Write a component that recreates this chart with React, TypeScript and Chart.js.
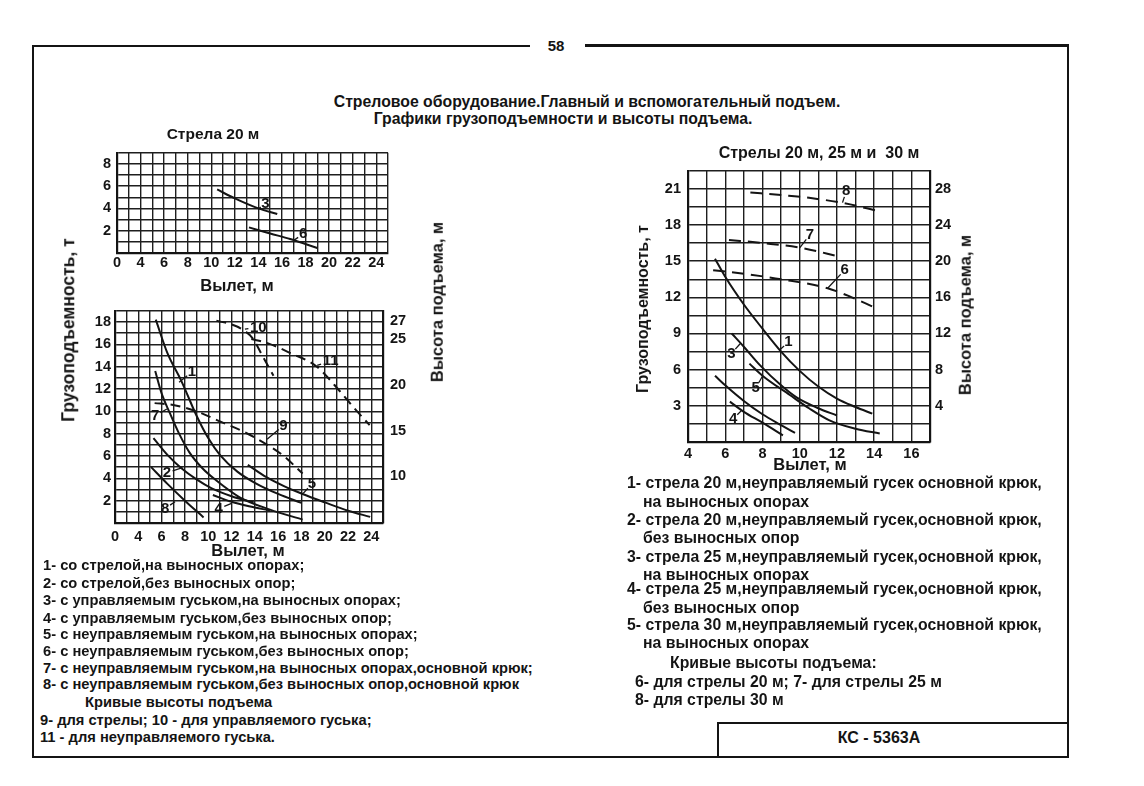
import React, { useEffect, useRef } from 'react';
import { Chart, registerables } from 'chart.js';

Chart.register(...registerables);

const FONT = '"Liberation Sans", Arial, sans-serif';
const INK = '#141414';

// ---------- Top-left chart: "Стрела 20 м" ----------
const top3X = [10.5, 12, 14, 15.6];
const top3Y = [5.7, 4.9, 4.0, 3.5];
const top6X = [13.2, 15, 16.7, 19];
const top6Y = [2.3, 1.75, 1.25, 0.45];
const topLabels = [
  { t: '3', x: 14.6, y: 4.45, tx: 14.0, ty: 3.95 },
  { t: '6', x: 17.8, y: 1.7, tx: 16.95, ty: 1.1 },
];

// ---------- Bottom-left chart ----------
const c1X = [5.5, 6.5, 7.7, 9, 10, 11, 12.5, 14, 16, 18];
const c1Y = [18.2, 15.2, 12.7, 9.6, 7.6, 6.1, 4.6, 3.6, 2.6, 1.8];
const c2X = [5.3, 6.5, 7.7, 9, 10.3, 12, 13.9];
const c2Y = [7.6, 6.1, 4.9, 3.9, 3.1, 2.4, 1.85];
const c4X = [10.4, 12, 13.5, 15.3];
const c4Y = [2.5, 1.9, 1.5, 1.12];
const c5X = [13.4, 15, 16.5, 18.1, 20, 22, 23.9];
const c5Y = [5.2, 4.1, 3.3, 2.6, 1.85, 1.1, 0.55];
const c7X = [5.45, 6, 6.7, 7.5, 8.4, 9.5, 10.7, 12.7, 15.3, 18.1];
const c7Y = [13.6, 11.6, 9.85, 8.0, 6.3, 4.9, 3.8, 2.3, 1.2, 0.3];
const c8X = [5.1, 6.5, 8, 9.6];
const c8Y = [5.0, 3.5, 2.0, 0.5];
// lifting height curves (right axis, m)
const c9X = [5.4, 7, 9, 11, 13, 15, 16.5, 18.1];
const c9Y = [18.0, 17.8, 17.1, 16.0, 14.9, 13.5, 12.2, 10.3];
const c10X = [10.7, 12, 13, 13.8, 14.6, 15.6];
const c10Y = [27.0, 26.6, 26.0, 25.1, 23.3, 21.0];
const c11X = [13.7, 15, 17, 19.3, 21.3, 22.5, 23.85];
const c11Y = [25.0, 24.6, 23.5, 22.0, 19.3, 17.5, 15.6];
const bottomLabels = [
  { t: '1', x: 8.6, y: 13.5, tx: 7.5, ty: 12.6 },
  { t: '7', x: 5.45, y: 9.6, tx: 6.45, ty: 10.2 },
  { t: '2', x: 6.45, y: 4.5, tx: 7.8, ty: 4.95 },
  { t: '8', x: 6.3, y: 1.3, tx: 7.15, ty: 1.9 },
  { t: '4', x: 10.9, y: 1.3, tx: 12, ty: 1.75 },
  { t: '5', x: 18.9, y: 3.5, tx: 18.15, ty: 2.65 },
  { t: '9', x: 16.45, y: 8.7, tx: 15.05, ty: 7.5 },
  { t: '10', x: 14.3, y: 17.5, tx: 13.15, ty: 17.35 },
  { t: '11', x: 20.5, y: 14.5, tx: 19.35, ty: 14.1 },
];

// ---------- Right chart: "Стрелы 20 м, 25 м и 30 м" ----------
const r1X = [5.45, 6, 7, 8, 9, 10, 11, 12, 13, 13.9];
const r1Y = [15.2, 13.7, 11.4, 9.4, 7.5, 5.9, 4.6, 3.6, 2.9, 2.35];
const r2X = [5.45, 6, 7, 8, 9, 9.75];
const r2Y = [5.5, 4.7, 3.4, 2.3, 1.4, 0.75];
const r3X = [6.35, 7, 7.85, 9, 9.83, 11, 12];
const r3Y = [9.0, 7.9, 6.4, 4.7, 3.7, 2.8, 2.2];
const r4X = [6.25, 7, 8, 9.1];
const r4Y = [3.35, 2.5, 1.6, 0.55];
const r5X = [7.3, 8, 9.47, 10.5, 11.6, 13, 14.3];
const r5Y = [6.5, 5.5, 3.9, 2.8, 1.8, 1.1, 0.7];
// lifting height curves (right axis, m)
const r6X = [5.35, 7, 9, 11.5, 12.8, 14];
const r6Y = [19.0, 18.6, 18.0, 17.0, 16.0, 14.9];
const r7X = [6.2, 8, 10, 12.15];
const r7Y = [22.35, 22.0, 21.5, 20.5];
const r8X = [7.35, 9, 10.5, 12.4, 14.3];
const r8Y = [27.6, 27.3, 27.0, 26.4, 25.5];
const rightLabels = [
  { t: '8', x: 12.5, y: 20.8, tx: 12.3, ty: 19.85 },
  { t: '7', x: 10.55, y: 17.2, tx: 10.0, ty: 16.1 },
  { t: '6', x: 12.42, y: 14.27, tx: 11.5, ty: 12.75 },
  { t: '1', x: 9.4, y: 8.3, tx: 8.9, ty: 7.6 },
  { t: '3', x: 6.33, y: 7.33, tx: 6.8, ty: 8.15 },
  { t: '5', x: 7.64, y: 4.48, tx: 8.0, ty: 5.45 },
  { t: '4', x: 6.42, y: 1.9, tx: 6.87, ty: 2.6 },
];

// ---------- Tick labels ----------
const leftXTickAt = [2, 4, 6, 8, 10, 12, 14, 16, 18, 20, 22, 24];
const leftXTickText = ['0', '4', '6', '8', '10', '12', '14', '16', '18', '20', '22', '24'];
const topYTickAt = [2, 4, 6, 8];
const bottomYTickAt = [2, 4, 6, 8, 10, 12, 14, 16, 18];
const bottomY2TickAt = [10, 15, 20, 25, 27];
const rightXTickAt = [4, 6, 8, 10, 12, 14, 16];
const rightYTickAt = [3, 6, 9, 12, 15, 18, 21];
const rightY2TickAt = [4, 8, 12, 16, 20, 24, 28];

const range = (a: number, b: number, s: number) => {
  const out: number[] = [];
  for (let i = 0; a + i * s <= b + 1e-9; i++) out.push(+(a + i * s).toFixed(4));
  return out;
};

const zip = (xs: number[], ys: number[]) => xs.map((x, i) => ({ x, y: ys[i] }));

const line = (xs: number[], ys: number[], axis = 'y', dash: number[] = []) => ({
  data: zip(xs, ys),
  borderColor: INK,
  borderWidth: 2,
  borderDash: dash,
  pointRadius: 0,
  fill: false,
  cubicInterpolationMode: 'monotone',
  yAxisID: axis,
});

type AxisOpts = {
  min: number;
  max: number;
  grid: number[];
  at: number[];
  text?: string[];
  position: string;
  showGrid: boolean;
  padding: number;
  size: number;
};

const axis = (o: AxisOpts) => ({
  type: 'linear',
  position: o.position,
  min: o.min,
  max: o.max,
  afterBuildTicks: (s: any) => {
    s.ticks = o.grid.map((v) => ({ value: v }));
  },
  afterFit: (s: any) => {
    if (o.position === 'bottom') s.height = o.size;
    else s.width = o.size;
  },
  grid: { display: o.showGrid, color: '#1e1e1e', lineWidth: 1.4, drawTicks: false },
  border: { display: true, color: INK, width: 2.2 },
  ticks: {
    autoSkip: false,
    maxRotation: 0,
    padding: o.padding,
    color: INK,
    font: { family: FONT, size: 14.5, weight: 'bold' },
    callback: (v: number) => {
      const i = o.at.indexOf(v);
      if (i < 0) return '';
      return o.text ? o.text[i] : String(v);
    },
  },
});

const curveLabelPlugin = {
  id: 'curveLabels',
  afterDatasetsDraw(chart: any, _args: any, opts: any) {
    const items = opts && opts.items;
    if (!items) return;
    const ctx = chart.ctx;
    const xs = chart.scales.x;
    const ys = chart.scales.y;
    ctx.save();
    ctx.font = `bold 15px ${FONT}`;
    ctx.fillStyle = INK;
    ctx.strokeStyle = INK;
    ctx.lineWidth = 1.3;
    ctx.textAlign = 'center';
    ctx.textBaseline = 'middle';
    for (const l of items) {
      const px = xs.getPixelForValue(l.x);
      const py = ys.getPixelForValue(l.y);
      const qx = xs.getPixelForValue(l.tx);
      const qy = ys.getPixelForValue(l.ty);
      ctx.fillText(l.t, px, py);
      const dx = qx - px;
      const dy = qy - py;
      const d = Math.hypot(dx, dy) || 1;
      const off = l.t.length > 1 ? 10 : 6;
      ctx.beginPath();
      ctx.moveTo(px + (dx / d) * off, py + (dy / d) * off);
      ctx.lineTo(qx, qy);
      ctx.stroke();
    }
    ctx.restore();
  },
};

const baseOptions = (scales: any, padding: any, items: any[]) => ({
  responsive: false,
  animation: false,
  devicePixelRatio: 1,
  layout: { padding },
  plugins: {
    legend: { display: false },
    tooltip: { enabled: false },
    curveLabels: { items },
  },
  elements: { point: { radius: 0 } },
  scales,
});

const topConfig = () => ({
  type: 'line',
  data: { datasets: [line(top3X, top3Y), line(top6X, top6Y)] },
  options: baseOptions(
    {
      x: axis({ min: 2, max: 25, grid: range(2, 25, 1), at: leftXTickAt, text: leftXTickText, position: 'bottom', showGrid: true, padding: 1, size: 25 }),
      y: axis({ min: 0, max: 9, grid: range(0, 9, 1), at: topYTickAt, position: 'left', showGrid: true, padding: 6, size: 47 }),
    },
    { top: 8, right: 12, left: 0, bottom: 0 },
    topLabels
  ),
  plugins: [curveLabelPlugin],
});

const bottomConfig = () => ({
  type: 'line',
  data: {
    datasets: [
      line(c1X, c1Y),
      line(c2X, c2Y),
      line(c4X, c4Y),
      line(c5X, c5Y),
      line(c7X, c7Y),
      line(c8X, c8Y),
      line(c9X, c9Y, 'y2', [10, 6]),
      line(c10X, c10Y, 'y2', [10, 6]),
      line(c11X, c11Y, 'y2', [10, 6]),
    ],
  },
  options: baseOptions(
    {
      x: axis({ min: 2, max: 25, grid: range(2, 25, 1), at: leftXTickAt, text: leftXTickText, position: 'bottom', showGrid: true, padding: 5, size: 32 }),
      y: axis({ min: 0, max: 19, grid: range(0, 19, 1), at: bottomYTickAt, position: 'left', showGrid: true, padding: 4, size: 55 }),
      y2: axis({ min: 4.9, max: 28.1, grid: bottomY2TickAt, at: bottomY2TickAt, position: 'right', showGrid: false, padding: 7, size: 47 }),
    },
    { top: 10, right: 0, left: 0, bottom: 0 },
    bottomLabels
  ),
  plugins: [curveLabelPlugin],
});

const rightConfig = () => ({
  type: 'line',
  data: {
    datasets: [
      line(r1X, r1Y),
      line(r2X, r2Y),
      line(r3X, r3Y),
      line(r4X, r4Y),
      line(r5X, r5Y),
      line(r6X, r6Y, 'y2', [12, 7]),
      line(r7X, r7Y, 'y2', [12, 7]),
      line(r8X, r8Y, 'y2', [12, 7]),
    ],
  },
  options: baseOptions(
    {
      x: axis({ min: 4, max: 17, grid: range(4, 17, 1), at: rightXTickAt, position: 'bottom', showGrid: true, padding: 3, size: 23 }),
      y: axis({ min: 0, max: 22.5, grid: range(0, 22.5, 1.5), at: rightYTickAt, position: 'left', showGrid: true, padding: 7, size: 58 }),
      y2: axis({ min: 0, max: 30, grid: rightY2TickAt, at: rightY2TickAt, position: 'right', showGrid: false, padding: 5, size: 35 }),
    },
    { top: 10, right: 0, left: 0, bottom: 0 },
    rightLabels
  ),
  plugins: [curveLabelPlugin],
});

function ChartBox(props: { left: number; top: number; width: number; height: number; build: () => any }) {
  const ref = useRef<HTMLCanvasElement | null>(null);
  useEffect(() => {
    if (!ref.current) return;
    const chart = new Chart(ref.current, props.build());
    return () => chart.destroy();
  }, []);
  return (
    <canvas
      ref={ref}
      width={props.width}
      height={props.height}
      style={{ position: 'absolute', left: props.left, top: props.top, width: props.width, height: props.height }}
    />
  );
}

function Txt(props: { x: number; y: number; size?: number; center?: boolean; rotate?: boolean; children: React.ReactNode }) {
  const tf = props.rotate
    ? 'translate(-50%,-50%) rotate(-90deg)'
    : props.center
    ? 'translate(-50%,-50%)'
    : 'translateY(-50%)';
  return (
    <div
      style={{
        position: 'absolute',
        left: props.x,
        top: props.y,
        transform: tf,
        whiteSpace: 'pre',
        fontFamily: FONT,
        fontWeight: 'bold',
        fontSize: props.size || 14,
        lineHeight: 1,
        color: INK,
      }}
    >
      {props.children}
    </div>
  );
}

const leftLegend = [
  { x: 43, y: 565, t: '1- со стрелой,на выносных опорах;' },
  { x: 43, y: 583, t: '2- со стрелой,без выносных опор;' },
  { x: 43, y: 600, t: '3- с управляемым гуськом,на выносных опорах;' },
  { x: 43, y: 618, t: '4- с управляемым гуськом,без выносных опор;' },
  { x: 43, y: 634, t: '5- с неуправляемым гуськом,на выносных опорах;' },
  { x: 43, y: 651, t: '6- с неуправляемым гуськом,без выносных опор;' },
  { x: 43, y: 668, t: '7- с неуправляемым гуськом,на выносных опорах,основной крюк;' },
  { x: 43, y: 684, t: '8- с неуправляемым гуськом,без выносных опор,основной крюк' },
  { x: 85, y: 702, t: 'Кривые высоты подъема' },
  { x: 40, y: 720, t: '9- для стрелы; 10 - для управляемого гуська;' },
  { x: 40, y: 737, t: '11 - для неуправляемого гуська.' },
];

const rightLegend = [
  { x: 627, y: 483, t: '1- стрела 20 м,неуправляемый гусек основной крюк,' },
  { x: 643, y: 502, t: 'на выносных опорах' },
  { x: 627, y: 520, t: '2- стрела 20 м,неуправляемый гусек,основной крюк,' },
  { x: 643, y: 538, t: 'без выносных опор' },
  { x: 627, y: 557, t: '3- стрела 25 м,неуправляемый гусек,основной крюк,' },
  { x: 643, y: 575, t: 'на выносных опорах' },
  { x: 627, y: 589, t: '4- стрела 25 м,неуправляемый гусек,основной крюк,' },
  { x: 643, y: 608, t: 'без выносных опор' },
  { x: 627, y: 625, t: '5- стрела 30 м,неуправляемый гусек,основной крюк,' },
  { x: 643, y: 643, t: 'на выносных опорах' },
  { x: 670, y: 663, t: 'Кривые высоты подъема:' },
  { x: 635, y: 682, t: '6- для стрелы 20 м; 7- для стрелы 25 м' },
  { x: 635, y: 700, t: '8- для стрелы 30 м' },
];

const bar = (left: number, top: number, width: number, height: number) => (
  <div style={{ position: 'absolute', left, top, width, height, background: INK }} />
);

export default function App() {
  return (
    <div style={{ position: 'absolute', left: 0, top: 0, width: 1144, height: 786, background: '#fff', overflow: 'hidden' }}>
      {/* page frame */}
      {bar(33, 45, 497, 2)}
      {bar(585, 44, 484, 3)}
      {bar(32, 45, 2, 713)}
      {bar(1067, 45, 2, 713)}
      {bar(32, 756, 1037, 2)}
      {bar(717, 722, 351, 2)}
      {bar(717, 722, 2, 35)}
      <Txt x={556} y={45} center size={15}>58</Txt>

      <ChartBox left={70} top={138} width={330} height={140} build={topConfig} />
      <ChartBox left={60} top={295} width={370} height={260} build={bottomConfig} />
      <ChartBox left={630} top={155} width={335} height={310} build={rightConfig} />

      <Txt x={587} y={102} center size={15.8}>Стреловое оборудование.Главный и вспомогательный подъем.</Txt>
      <Txt x={563} y={119} center size={15.8}>Графики грузоподъемности и высоты подъема.</Txt>
      <Txt x={213} y={134} center size={15.5}>Стрела 20 м</Txt>
      <Txt x={819} y={153} center size={16}>Стрелы 20 м, 25 м и  30 м</Txt>

      <Txt x={237} y={285} center size={16.5}>Вылет, м</Txt>
      <Txt x={248} y={550} center size={16.5}>Вылет, м</Txt>
      <Txt x={810} y={464} center size={16.5}>Вылет, м</Txt>

      <Txt x={69} y={330} rotate size={17.5}>Грузоподъемность, т</Txt>
      <Txt x={437} y={302} rotate size={16.5}>Высота подъема, м</Txt>
      <Txt x={643} y={309} rotate size={16}>Грузоподъемность, т</Txt>
      <Txt x={965} y={315} rotate size={16.5}>Высота подъема, м</Txt>

      {leftLegend.map((l, i) => (
        <Txt key={'l' + i} x={l.x} y={l.y} size={14.7}>{l.t}</Txt>
      ))}
      {rightLegend.map((l, i) => (
        <Txt key={'r' + i} x={l.x} y={l.y} size={15.8}>{l.t}</Txt>
      ))}
      <Txt x={879} y={738} center size={16}>КС - 5363А</Txt>
    </div>
  );
}
